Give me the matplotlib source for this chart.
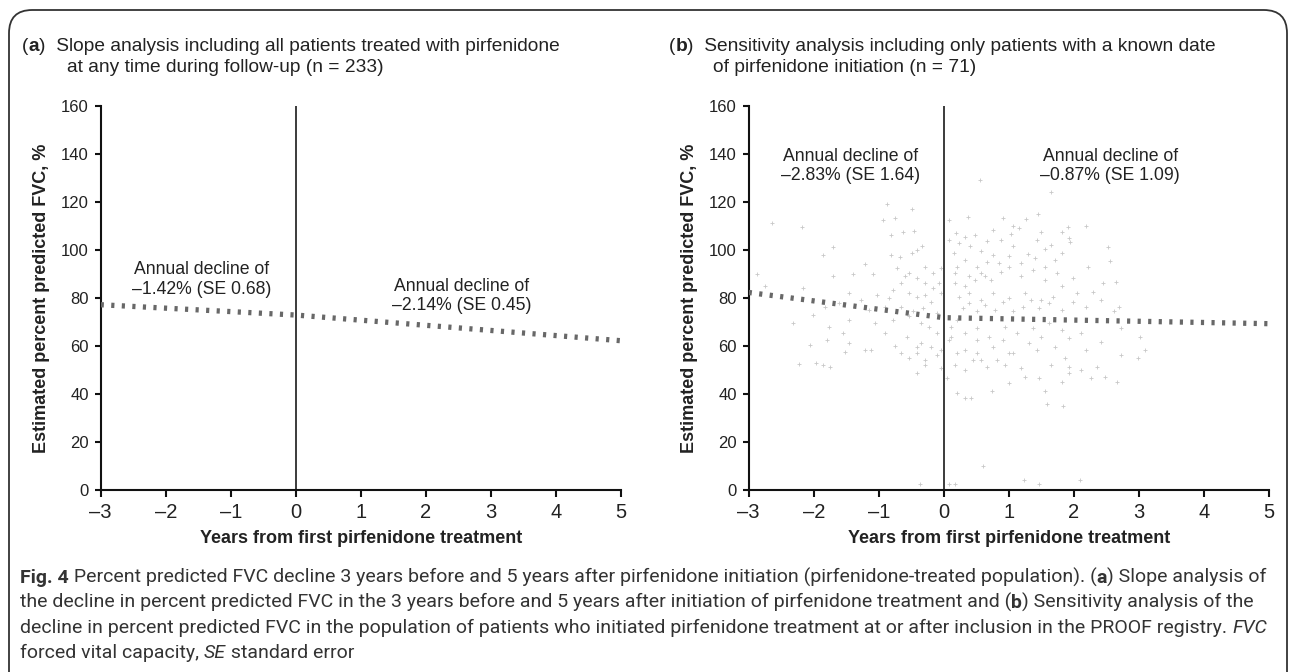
import matplotlib
matplotlib.use('Agg')
import matplotlib.pyplot as plt
from matplotlib import font_manager
from matplotlib.patches import FancyBboxPatch

# ---- data ----
years_ticks = [-3, -2, -1, 0, 1, 2, 3, 4, 5]
year_labels = ['–3', '–2', '–1', '0', '1', '2', '3', '4', '5']
fvc_ticks = [0, 20, 40, 60, 80, 100, 120, 140, 160]

# fitted slopes (x, estimated % predicted FVC)
slope_a_x = [-3, 0, 5]
slope_a_y = [77.2, 72.9, 62.2]
slope_b_x = [-3, 0, 5]
slope_b_y = [82.3, 71.8, 69.3]

notes_a = ['Annual decline of\n–1.42% (SE 0.68)', 'Annual decline of\n–2.14% (SE 0.45)']
notes_b = ['Annual decline of\n–2.83% (SE 1.64)', 'Annual decline of\n–0.87% (SE 1.09)']

# individual observations in panel b
obs_x = [0.55, 1.65, -0.87, -0.49, -2.64, -2.18, -0.94, -0.75, 1.45, 1.27, 0.91, 0.37, 0.08,
         2.19, 1.91, 1.81, -0.63, -0.81, -0.46, 0.18, 0.33, 0.76, 1.03, 1.16, 1.50, 1.92, 2.53,
         1.94, -1.71, -1.85, -0.81, -0.67, -0.49, -0.41, -0.33, 0.15, 0.41, 0.57, 0.76, 1.07,
         1.29, 1.56, 1.81, 2.55, -1.21, -1.09, -1.40, -1.71, -2.88, -2.75, -2.17, -0.72, -0.60,
         -0.29, -0.17, -0.04, 0.20, 0.39, 0.57, 0.73, 0.88, 1.00, 1.19, 1.37, 1.56, 1.74, 1.99,
         2.21, 2.45, 2.65, 2.30, 2.05, 1.81, -1.03, -0.84, -0.54, -0.41, -0.29, 0.23, 0.39, 0.57,
         0.76, 1.00, 1.25, 1.50, 1.68, 2.42, 2.70, 2.61, -2.32, -1.46, -1.06, -0.78, -0.54, -0.35,
         -0.23, -0.10, 0.11, 0.33, 0.51, 0.70, 0.94, 1.13, 1.37, 1.62, 1.81, 2.11, 2.73, 3.01,
         -1.55, -1.79, -2.05, -1.46, -1.21, -1.12, -1.52, -0.75, -0.66, -0.54, -0.41, -0.29,
         -0.10, -0.04, -0.41, -0.29, -2.23, -1.97, -1.86, -1.75, 0.17, 0.33, 0.51, 0.57, 0.82,
         1.00, 1.19, 1.44, 1.65, 1.87, 1.93, 2.11, 2.36, 2.73, 2.98, 3.10, 0.05, 0.20, 0.33,
         0.42, 0.74, 1.00, 1.25, 1.47, 1.56, 1.81, 1.93, 2.27, 2.48, 2.67, 1.59, 1.84, 0.60,
         1.24, 1.46, 2.10, -0.36, 0.08, 0.17,
         # dense cluster around the start of treatment
         -0.66, -0.47, -0.32, -0.20, -0.10, -0.04, -0.07, -0.17, -0.29, -0.41, -0.54, -0.66,
         -0.78, -0.91, -1.15, -1.28, -1.46, -1.61, -1.83, -2.01, -1.77, -0.91, -0.57, -0.35,
         -0.20, -0.04, -0.41, 0.08, 0.20, 0.30, 0.39, 0.51, 0.63, 0.79, 0.91, 1.07, 1.22, 1.34,
         1.47, 1.62, 1.81, 1.99, 2.18, 0.17, 0.33, 0.48, 0.63, 0.51, 0.67, 0.85, 1.00, 1.19,
         1.40, 1.56, 1.71, 0.33, 0.17, 0.08, 0.23, 0.48, 0.67, 0.88, 1.07, 1.44, 1.65, 0.11,
         0.33, 0.51, 0.76, 0.91, 1.07, 1.31, 1.50, 1.71, 1.93, 2.18, 2.42, 0.20, 0.45, 0.67,
         0.94]
obs_y = [129.2, 124.3, 119.1, 117.1, 111.1, 109.4, 112.5, 113.2, 115.2, 112.9, 113.2, 113.9, 112.6,
         110.1, 109.4, 107.7, 107.3, 106.2, 108.0, 107.0, 105.6, 108.4, 106.5, 109.1, 107.3, 105.2,
         101.2, 103.3, 101.2, 98.1, 97.9, 97.2, 98.6, 100.1, 101.8, 98.7, 101.5, 99.4, 98.0, 101.5,
         98.4, 100.4, 98.7, 95.6, 94.1, 90.1, 90.1, 89.2, 90.1, 85.2, 84.1, 92.4, 89.0,
         93.1, 90.3, 92.4, 93.1, 89.0, 90.3, 87.6, 91.0, 93.1, 89.0, 91.7, 87.6, 90.3, 88.3,
         93.1, 86.2, 86.5, 82.7, 82.0, 84.8, 81.3, 79.9, 82.0, 80.6, 81.3, 80.6, 82.0, 79.2,
         82.0, 79.9, 82.0, 79.2, 80.6, 79.2, 76.2, 74.4, 69.5, 70.9, 69.5, 70.9, 72.3, 69.5,
         68.1, 65.3, 68.1, 65.3, 67.4, 63.9, 68.1, 65.3, 67.4, 69.5, 66.7, 65.3, 67.4, 63.9,
         65.3, 62.3, 60.3, 61.4, 58.4, 58.4, 57.7, 59.8, 57.0, 54.9, 57.0, 54.2,
         56.3, 50.7, 48.6, 52.1, 52.4, 53.1, 52.2, 51.4, 52.1, 50.0, 57.0, 54.2, 54.2,
         57.0, 50.7, 58.4, 52.1, 54.9, 51.4, 50.0, 51.4, 56.3, 54.9, 58.4, 46.5, 40.3, 38.2,
         38.2, 41.4, 44.4, 47.2, 46.5, 41.4, 45.1, 48.6, 46.5, 47.0, 45.1, 35.7, 35.1, 10.2,
         4.2, 2.5, 4.2, 2.6, 2.6, 2.4,
         76.4, 74.4, 75.7, 78.5, 73.7, 82.0, 86.2, 84.1, 86.2, 88.3, 90.3, 86.2,
         83.4, 76.4, 75.0, 79.2, 82.0, 77.8, 76.4, 73.0, 68.1, 65.3, 63.9, 61.1,
         59.7, 58.4, 59.7, 62.5, 70.9, 75.7, 77.8, 74.4, 77.2, 75.0, 78.5, 74.4, 76.4, 79.2,
         75.7, 77.8, 75.0, 78.5, 76.4, 86.2, 84.8, 87.6, 89.0, 93.1, 95.2, 94.5, 97.3, 94.5,
         96.6, 93.1, 95.9, 95.9, 90.3, 104.3, 102.9, 106.3, 103.6, 104.3, 109.8, 104.3, 102.2, 63.9,
         58.4, 62.5, 59.7, 62.5, 57.0, 61.1, 63.9, 59.7, 63.2, 58.4, 61.8, 57.0, 54.2, 51.4,
         52.1]

titles_a = ['Slope analysis including all patients treated with pirfenidone',
            'at any time during follow-up (n = 233)']
titles_b = ['Sensitivity analysis including only patients with a known date',
            'of pirfenidone initiation (n = 71)']

W, H = 1290, 672
names = {f.name for f in font_manager.fontManager.ttflist}
SANS = 'Liberation Sans'
CAP = 'Liberation Sans Narrow' if 'Liberation Sans Narrow' in names else 'Roboto'
TXT = '#222222'

plt.rcParams['font.family'] = [SANS, 'DejaVu Sans']

fig = plt.figure(figsize=(W / 100, H / 100), dpi=100)
fig.patch.set_facecolor('white')


def fx(px):
    return px / W


def fy(py):
    return 1 - py / H


# rounded frame round the whole figure
frame = FancyBboxPatch((fx(9), fy(700)), fx(1278), fy(10) - fy(700),
                       boxstyle='round,pad=0,rounding_size=0.018',
                       transform=fig.transFigure, fill=False,
                       edgecolor='#333333', linewidth=1.3, mutation_aspect=W / H)
fig.add_artist(frame)

renderer = fig.canvas.get_renderer()


def rich(x, y, parts, size, family, color=TXT):
    # draw text pieces one after another on a shared baseline
    cur = x
    for s, style in parts:
        kw = dict(fontsize=size, color=color, family=family, va='baseline', ha='left')
        if 'b' in style:
            kw['fontweight'] = 'bold'
        if 'i' in style:
            kw['fontstyle'] = 'italic'
        t = fig.text(fx(cur), fy(y), s, **kw)
        cur += t.get_window_extent(renderer).width


def panel(left_px, sx, sy, show_obs):
    ax = fig.add_axes([fx(left_px), fy(490), 520.3 / W, 384 / H])
    if show_obs:
        ax.plot(obs_x, obs_y, linestyle='none', marker='+', markersize=3.0,
                markeredgewidth=0.6, color='#c8c8c8', zorder=1)
    ax.axvline(0, color='#1a1a1a', linewidth=1.2, zorder=2)
    ax.plot(sx, sy, color='#686868', linewidth=3.8, linestyle=(0, (0.6, 1.4)),
            dash_capstyle='butt', zorder=3)
    ax.set_xlim(-3, 5)
    ax.set_ylim(0, 160)
    ax.set_xticks(years_ticks)
    ax.set_xticklabels(year_labels, fontsize=14.5, color=TXT)
    ax.set_yticks(fvc_ticks)
    ax.set_yticklabels([str(v) for v in fvc_ticks], fontsize=12, color=TXT)
    for side in ['top', 'right']:
        ax.spines[side].set_visible(False)
    for side in ['left', 'bottom']:
        ax.spines[side].set_linewidth(1.5)
        ax.spines[side].set_color('#111111')
    ax.tick_params(axis='x', length=5, width=1.5, pad=4, colors='#111111')
    ax.tick_params(axis='y', length=4.5, width=1.5, pad=4, colors='#111111')
    for lab in ax.get_xticklabels() + ax.get_yticklabels():
        lab.set_color(TXT)
    ax.set_xlabel('Years from first pirfenidone treatment', fontsize=13,
                  fontweight='bold', color=TXT, labelpad=6)
    ax.set_ylabel('Estimated percent predicted FVC, %', fontsize=13,
                  fontweight='bold', color=TXT, labelpad=8)
    ax.patch.set_alpha(0)
    return ax


NOTE = 12.7
ax_a = panel(100.7, slope_a_x, slope_a_y, False)
ax_a.text(-1.45, 87.7, notes_a[0], ha='center', va='center', fontsize=NOTE,
          color=TXT, linespacing=1.2)
ax_a.text(2.55, 80.9, notes_a[1], ha='center', va='center', fontsize=NOTE,
          color=TXT, linespacing=1.2)

ax_b = panel(748.7, slope_b_x, slope_b_y, True)
ax_b.text(-1.44, 135.0, notes_b[0], ha='center', va='center', fontsize=NOTE,
          color=TXT, linespacing=1.2)
ax_b.text(2.56, 135.0, notes_b[1], ha='center', va='center', fontsize=NOTE,
          color=TXT, linespacing=1.2)

# panel titles
TS = 13.8
rich(22, 51, [('(', ''), ('a', 'b'), (')  ' + titles_a[0], '')], TS, SANS)
fig.text(fx(67), fy(72), titles_a[1], fontsize=TS, color=TXT, va='baseline')
rich(669, 51, [('(', ''), ('b', 'b'), (')  ' + titles_b[0], '')], TS, SANS)
fig.text(fx(713), fy(72), titles_b[1], fontsize=TS, color=TXT, va='baseline')

# caption
cap_lines = [
    [('Fig. 4', 'b'), (' Percent predicted FVC decline 3 years before and 5 years after pirfenidone '
                        'initiation (pirfenidone-treated population). (', ''), ('a', 'b'),
     (') Slope analysis of', '')],
    [('the decline in percent predicted FVC in the 3 years before and 5 years after initiation '
      'of pirfenidone treatment and (', ''), ('b', 'b'), (') Sensitivity analysis of the', '')],
    [('decline in percent predicted FVC in the population of patients who initiated pirfenidone '
      'treatment at or after inclusion in the PROOF registry. ', ''), ('FVC', 'i')],
    [('forced vital capacity, ', ''), ('SE', 'i'), (' standard error', '')],
]
for i, parts in enumerate(cap_lines):
    rich(20, 583 + 25 * i, parts, 14.0, CAP, color='#333333')

fig.savefig('out.png', dpi=100)
